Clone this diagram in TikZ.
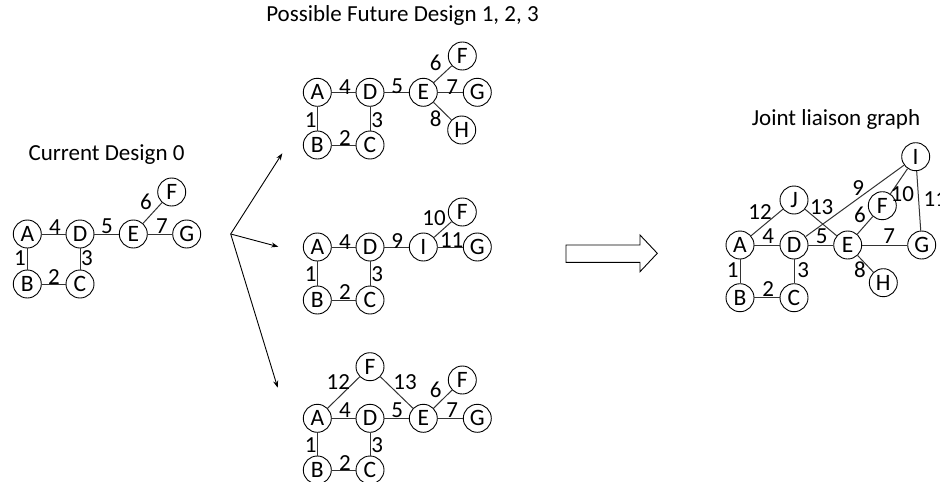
\documentclass[tikz,border=0pt]{standalone}
\usepackage{fontspec}
\setmainfont{Carlito}
\usetikzlibrary{arrows.meta}
\tikzset{
  vertex/.style={circle, draw=black, line width=0.9pt, minimum size=28pt, inner sep=0pt, font=\fontsize{23.5}{26}\selectfont},
  elabel/.style={inner sep=0pt, font=\fontsize{23}{26}\selectfont},
  title/.style={inner sep=0pt, anchor=base, font=\fontsize{23}{26}\selectfont},
  liaison/.style={draw=black!80, line width=1pt},
  fanarrow/.style={draw=black, line width=0.9pt, -{Stealth[length=7pt,width=5pt]}},
  bigarrow/.style={draw=black, line width=0.9pt, fill=white}
}
\begin{document}
\begin{tikzpicture}[x=1pt, y=-1pt]
\useasboundingbox (0,0) rectangle (940,482);

% ---------- Current design ----------
\node[title] (tcur) at (106.5,160.5) {Current Design 0};
\node[vertex] (cA) at (27.3,234) {A};
\node[vertex] (cD) at (80,234) {D};
\node[vertex] (cE) at (133.3,234) {E};
\node[vertex] (cF) at (171.7,192) {F};
\node[vertex] (cG) at (186.7,234) {G};
\node[vertex] (cB) at (27.3,284) {B};
\node[vertex] (cC) at (80,284) {C};
\draw[liaison] (cA) -- (cB);
\draw[liaison] (cB) -- (cC);
\draw[liaison] (cC) -- (cD);
\draw[liaison] (cA) -- (cD);
\draw[liaison] (cD) -- (cE);
\draw[liaison] (cE) -- (cF);
\draw[liaison] (cE) -- (cG);
\node[elabel] (cl1) at (20,258) {1};
\node[elabel] (cl2) at (54,277) {2};
\node[elabel] (cl3) at (87,258) {3};
\node[elabel] (cl4) at (55,227) {4};
\node[elabel] (cl5) at (107,226) {5};
\node[elabel] (cl6) at (146,202) {6};
\node[elabel] (cl7) at (162,226) {7};

% ---------- Fan of arrows ----------
\coordinate (fan) at (230.7,234);
\coordinate (fanT) at (282.3,153.3);
\coordinate (fanM) at (278.3,246.7);
\coordinate (fanB) at (277.7,387.7);
\draw[fanarrow] (fan) -- (fanT);
\draw[fanarrow] (fan) -- (fanM);
\draw[fanarrow] (fan) -- (fanB);

\node[title] (tfut) at (402.5,21.7) {Possible Future Design 1, 2, 3};

% ---------- Future design 1 ----------
\node[vertex] (tA) at (317.3,92.3) {A};
\node[vertex] (tD) at (370,92.3) {D};
\node[vertex] (tE) at (423.3,92.3) {E};
\node[vertex] (tF) at (462.3,56) {F};
\node[vertex] (tG) at (477.3,92.3) {G};
\node[vertex] (tH) at (461.7,130) {H};
\node[vertex] (tB) at (317.3,145) {B};
\node[vertex] (tC) at (370,145) {C};
\draw[liaison] (tA) -- (tB);
\draw[liaison] (tB) -- (tC);
\draw[liaison] (tC) -- (tD);
\draw[liaison] (tA) -- (tD);
\draw[liaison] (tD) -- (tE);
\draw[liaison] (tE) -- (tF);
\draw[liaison] (tE) -- (tG);
\draw[liaison] (tE) -- (tH);
\node[elabel] (tl1) at (310.7,120) {1};
\node[elabel] (tl2) at (345,138.3) {2};
\node[elabel] (tl3) at (377.3,120) {3};
\node[elabel] (tl4) at (345,86.7) {4};
\node[elabel] (tl5) at (397.3,86) {5};
\node[elabel] (tl6) at (435.7,63.3) {6};
\node[elabel] (tl7) at (452.3,87) {7};
\node[elabel] (tl8) at (435.7,118.3) {8};

% ---------- Future design 2 ----------
\node[vertex] (mA) at (317.3,247) {A};
\node[vertex] (mD) at (370,247) {D};
\node[vertex] (mI) at (423.3,247) {I};
\node[vertex] (mF) at (462.3,212) {F};
\node[vertex] (mG) at (477.3,247) {G};
\node[vertex] (mB) at (317.3,300) {B};
\node[vertex] (mC) at (370,300) {C};
\draw[liaison] (mA) -- (mB);
\draw[liaison] (mB) -- (mC);
\draw[liaison] (mC) -- (mD);
\draw[liaison] (mA) -- (mD);
\draw[liaison] (mD) -- (mI);
\draw[liaison] (mI) -- (mF);
\draw[liaison] (mI) -- (mG);
\node[elabel] (ml1) at (310.7,274) {1};
\node[elabel] (ml2) at (345,292.3) {2};
\node[elabel] (ml3) at (377.3,274) {3};
\node[elabel] (ml4) at (345,241.7) {4};
\node[elabel] (ml9) at (397.3,241) {9};
\node[elabel] (ml10) at (434,218.3) {10};
\node[elabel] (ml11) at (451.7,240) {11};

% ---------- Future design 3 ----------
\node[vertex] (bFa) at (370,366.7) {F};
\node[vertex] (bA) at (317.3,418.3) {A};
\node[vertex] (bD) at (370,418.3) {D};
\node[vertex] (bE) at (423.3,418.3) {E};
\node[vertex] (bFb) at (462.3,380) {F};
\node[vertex] (bG) at (477.3,418.3) {G};
\node[vertex] (bB) at (317.3,470) {B};
\node[vertex] (bC) at (370,470) {C};
\draw[liaison] (bA) -- (bB);
\draw[liaison] (bB) -- (bC);
\draw[liaison] (bC) -- (bD);
\draw[liaison] (bA) -- (bD);
\draw[liaison] (bD) -- (bE);
\draw[liaison] (bA) -- (bFa);
\draw[liaison] (bFa) -- (bE);
\draw[liaison] (bE) -- (bFb);
\draw[liaison] (bE) -- (bG);
\node[elabel] (bl1) at (310.7,445) {1};
\node[elabel] (bl2) at (345,463.3) {2};
\node[elabel] (bl3) at (377.3,445) {3};
\node[elabel] (bl4) at (345,410) {4};
\node[elabel] (bl5) at (397.3,410) {5};
\node[elabel] (bl6) at (435.7,390) {6};
\node[elabel] (bl7) at (452.3,410) {7};
\node[elabel] (bl12) at (338.3,381.7) {12};
\node[elabel] (bl13) at (405,381.7) {13};

% ---------- Hollow block arrow ----------
\draw[bigarrow] (566,245) -- (640,245) -- (640,235) -- (657.3,253.3)
  -- (640,271.7) -- (640,262.3) -- (566,262.3) -- cycle;

% ---------- Joint liaison graph ----------
\node[title] (tjoint) at (836,125) {Joint liaison graph};
\node[vertex] (jI) at (915.7,156.7) {I};
\node[vertex] (jJ) at (794,200) {J};
\node[vertex] (jF) at (882.3,205.7) {F};
\node[vertex] (jA) at (740,245) {A};
\node[vertex] (jD) at (794,245) {D};
\node[vertex] (jE) at (847.7,245) {E};
\node[vertex] (jG) at (921.7,245) {G};
\node[vertex] (jH) at (883.3,282.7) {H};
\node[vertex] (jB) at (740,297.7) {B};
\node[vertex] (jC) at (794,297.7) {C};
\draw[liaison] (jA) -- (jB);
\draw[liaison] (jB) -- (jC);
\draw[liaison] (jC) -- (jD);
\draw[liaison] (jA) -- (jD);
\draw[liaison] (jD) -- (jE);
\draw[liaison] (jA) -- (jJ);
\draw[liaison] (jJ) -- (jE);
\draw[liaison] (jD) -- (jI);
\draw[liaison] (jE) -- (jF);
\draw[liaison] (jF) -- (jI);
\draw[liaison] (jI) -- (jG);
\draw[liaison] (jE) -- (jG);
\draw[liaison] (jE) -- (jH);
\node[elabel] (jl1) at (732.7,270) {1};
\node[elabel] (jl2) at (768.3,289.3) {2};
\node[elabel] (jl3) at (803.3,270) {3};
\node[elabel] (jl4) at (768.3,236) {4};
\node[elabel] (jl5) at (821.7,236) {5};
\node[elabel] (jl6) at (860,215) {6};
\node[elabel] (jl7) at (889.3,236) {7};
\node[elabel] (jl8) at (860,270) {8};
\node[elabel] (jl9) at (858.3,188.3) {9};
\node[elabel] (jl10) at (902.3,194.3) {10};
\node[elabel] (jl11) at (923.5,199) [anchor=west] {11};
\node[elabel] (jl12) at (760,211.7) {12};
\node[elabel] (jl13) at (821.7,207.3) {13};
\end{tikzpicture}
\end{document}
